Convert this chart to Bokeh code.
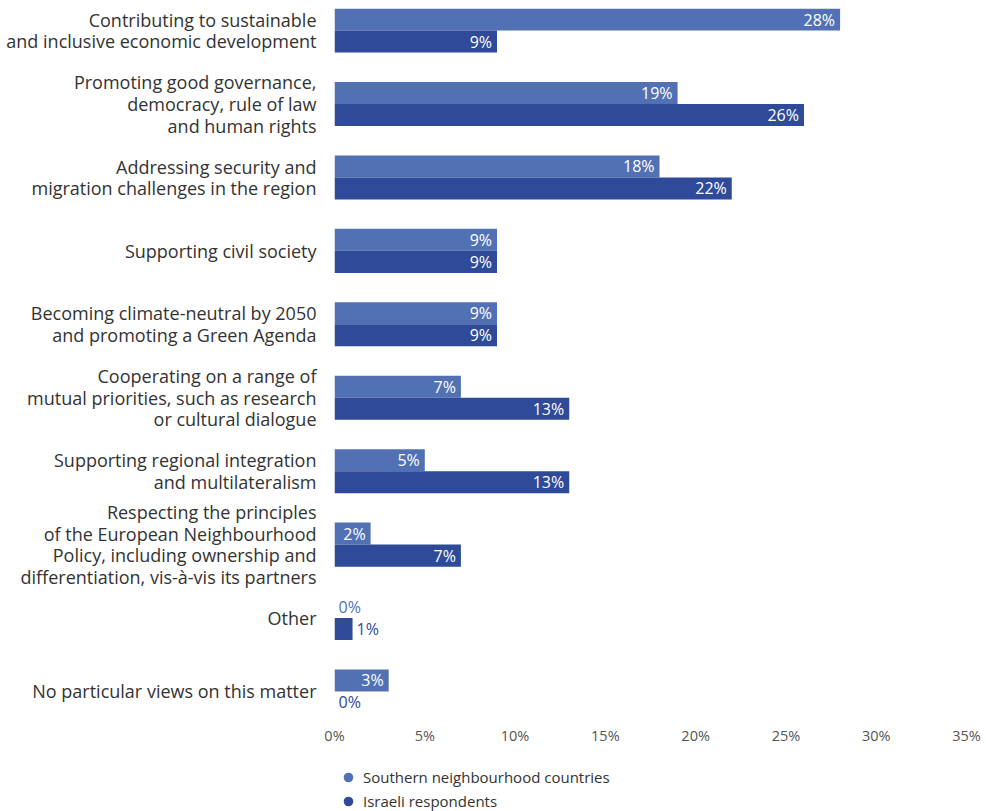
from bokeh.plotting import figure
from bokeh.models import (Range1d, FixedTicker, Legend, LegendItem, ColumnDataSource)
from bokeh.layouts import column
from bokeh.transform import dodge
from bokeh.core.properties import value
from bokeh.embed import file_html
from bokeh.resources import INLINE

categories = [
    "Contributing to sustainable\nand inclusive economic development",
    "Promoting good governance,\ndemocracy, rule of law\nand human rights",
    "Addressing security and\nmigration challenges in the region",
    "Supporting civil society",
    "Becoming climate-neutral by 2050\nand promoting a Green Agenda",
    "Cooperating on a range of\nmutual priorities, such as research\nor cultural dialogue",
    "Supporting regional integration\nand multilateralism",
    "Respecting the principles\nof the European Neighbourhood\nPolicy, including ownership and\ndifferentiation, vis-à-vis its partners",
    "Other",
    "No particular views on this matter",
]
southern = [28, 19, 18, 9, 9, 7, 5, 2, 0, 3]
israeli = [9, 26, 22, 9, 9, 13, 13, 7, 1, 0]
series_names = ["Southern neighbourhood countries", "Israeli respondents"]
series_colors = ["#5271B5", "#2E4A98"]
x_ticks = [0, 5, 10, 15, 20, 25, 30, 35]

FONT = "Open Sans"
n = len(categories)
idx = list(range(n))

p = figure(frame_width=632, frame_height=705, output_backend="svg", toolbar_location=None,
           x_range=Range1d(0, 35), y_range=Range1d(n - 1 + 0.3, -0.3),
           min_border_left=334, min_border_right=18, min_border_top=8, min_border_bottom=40)
p.outline_line_color = None
p.grid.grid_line_color = None
p.background_fill_color = "white"

for k, (vals, col) in enumerate(zip([southern, israeli], series_colors)):
    off = -0.15 if k == 0 else 0.15
    inside = [v >= 2 for v in vals]
    src = ColumnDataSource(dict(
        y=idx, v=vals,
        lab=[f"{v}%" for v in vals],
        tcol=["white" if i else col for i in inside],
        talign=["right" if i else "left" for i in inside],
        xoff=[-5 if i else 4 for i in inside],
    ))
    p.hbar(y=dodge("y", off, range=p.y_range), right="v", left=0, height=0.3,
           source=src, fill_color=col, line_color=None)
    p.text(x="v", y=dodge("y", off, range=p.y_range), text="lab", source=src,
           text_color="tcol", text_align="talign", x_offset="xoff",
           text_baseline="middle", text_font=value(FONT), text_font_size="16px")

# x axis
p.xaxis.ticker = FixedTicker(ticks=x_ticks)
p.xaxis.major_label_overrides = {t: f"{t}%" for t in x_ticks}
p.xaxis.axis_line_color = None
p.xaxis.major_tick_line_color = None
p.xaxis.minor_tick_line_color = None
p.xaxis.major_label_standoff = 6
p.xaxis.major_label_text_font = FONT
p.xaxis.major_label_text_font_size = "14.5px"
p.xaxis.major_label_text_color = "#555555"

# y axis
p.yaxis.ticker = FixedTicker(ticks=idx)
p.yaxis.major_label_overrides = {i: c for i, c in zip(idx, categories)}
p.yaxis.axis_line_color = None
p.yaxis.major_tick_line_color = None
p.yaxis.minor_tick_line_color = None
p.yaxis.major_label_standoff = 12
p.yaxis.major_label_text_font = FONT
p.yaxis.major_label_text_font_size = "18px"
p.yaxis.major_label_text_line_height = 0.9
p.yaxis.major_label_text_color = "#333333"

# legend figure
lf = figure(frame_width=648, frame_height=46, output_backend="svg", toolbar_location=None,
            x_range=Range1d(0, 1), y_range=Range1d(0, 1),
            x_axis_location=None, y_axis_location=None,
            min_border_left=318, min_border_right=18, min_border_top=12, min_border_bottom=0)
lf.outline_line_color = None
lf.grid.grid_line_color = None
renderers = [lf.scatter(x=[-10], y=[-10], marker="circle", size=11, fill_color=c, line_color=None)
             for c in series_colors]
legend = Legend(items=[LegendItem(label=nm, renderers=[r]) for nm, r in zip(series_names, renderers)],
                orientation="vertical", location="top_left",
                label_text_font=FONT, label_text_font_size="15px", label_text_color="#333333",
                glyph_width=28, glyph_height=24, label_height=24, label_standoff=1, spacing=0,
                padding=0, margin=0, border_line_color=None, background_fill_alpha=0)
lf.add_layout(legend)

layout = column(p, lf, spacing=0)
open("out.html", "w").write(file_html(layout, INLINE))
